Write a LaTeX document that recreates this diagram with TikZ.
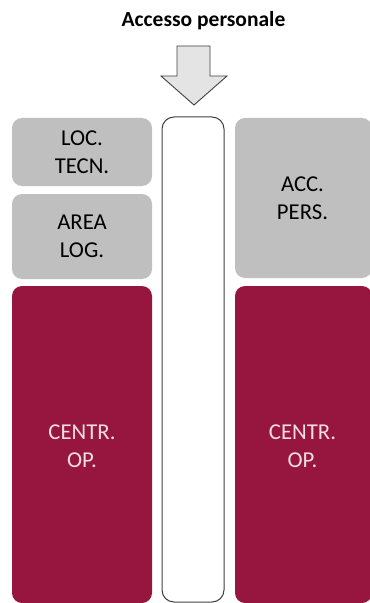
\documentclass[tikz,border=0pt]{standalone}
\usepackage{fontspec}
\setmainfont{Carlito}
\definecolor{boxgray}{HTML}{BFBFBF}
\definecolor{opred}{HTML}{961640}
\definecolor{optext}{HTML}{F4DDE4}
\definecolor{arrowfill}{HTML}{E4E4E4}
\definecolor{edge}{HTML}{404040}
\begin{document}
\begin{tikzpicture}[x=1bp,y=-1bp,
  graybox/.style={fill=boxgray,rounded corners=10bp},
  redbox/.style={fill=opred,rounded corners=10bp},
  lbl/.style={font=\fontsize{22.8}{28.5}\selectfont,align=center,inner sep=0pt},
  redlbl/.style={lbl,text=optext}]
\useasboundingbox (0,0) rectangle (369,603);
% title
\node[font=\fontsize{21.6}{24}\selectfont\bfseries,inner sep=0pt] (title) at (203.5,20.5) {Accesso personale};
% arrow
\draw[fill=arrowfill,draw=edge,line width=0.9bp,line join=miter]
  (177,46) -- (210,46) -- (210,76) -- (227,76) -- (194,105) -- (161,76) -- (177,76) -- cycle;
% boxes
\fill[graybox] (12,118) rectangle (152,186);
\node[lbl] (loc) at (82,152) {LOC.\\TECN.};
\fill[graybox] (12,194) rectangle (152,279);
\node[lbl] (area) at (82,236.5) {AREA\\LOG.};
\fill[graybox] (235,118) rectangle (372,278);
\node[lbl] (acc) at (302.5,198.5) {ACC.\\PERS.};
\draw[edge,line width=1bp,rounded corners=12bp,fill=white] (162,117) rectangle (224,602);
\fill[redbox] (12,286) rectangle (152,603);
\node[redlbl] (opl) at (82,446) {CENTR.\\OP.};
\fill[redbox] (235,286) rectangle (372,603);
\node[redlbl] (opr) at (302.5,446) {CENTR.\\OP.};
\end{tikzpicture}
\end{document}
